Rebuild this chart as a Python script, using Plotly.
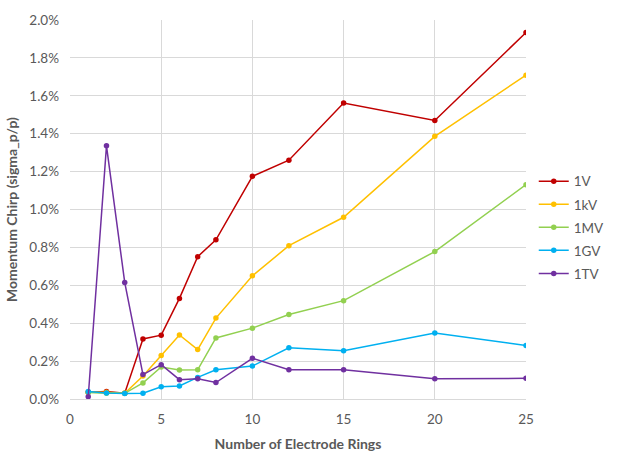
import plotly.graph_objects as go

rings = [1, 2, 3, 4, 5, 6, 7, 8, 10, 12, 15, 20, 25]

chirp_1V = [0.036, 0.039, 0.030, 0.317, 0.337, 0.531, 0.751, 0.840, 1.175, 1.260, 1.562, 1.470, 1.934]
chirp_1kV = [0.035, 0.035, 0.030, 0.121, 0.230, 0.338, 0.261, 0.427, 0.650, 0.809, 0.959, 1.386, 1.709]
chirp_1MV = [0.034, 0.030, 0.030, 0.085, 0.169, 0.153, 0.154, 0.322, 0.374, 0.446, 0.519, 0.778, 1.131]
chirp_1GV = [0.039, 0.032, 0.029, 0.030, 0.065, 0.069, 0.114, 0.154, 0.174, 0.270, 0.255, 0.348, 0.282]
chirp_1TV = [0.012, 1.336, 0.615, 0.129, 0.181, 0.102, 0.107, 0.087, 0.215, 0.154, 0.154, 0.107, 0.109]

series_names = ["1V", "1kV", "1MV", "1GV", "1TV"]
series_values = [chirp_1V, chirp_1kV, chirp_1MV, chirp_1GV, chirp_1TV]
series_colors = ["#C00000", "#FFC000", "#92D050", "#00B0F0", "#7030A0"]

y_ticks = [0.0, 0.2, 0.4, 0.6, 0.8, 1.0, 1.2, 1.4, 1.6, 1.8, 2.0]
x_ticks = [0, 5, 10, 15, 20, 25]

FONT = "Lato, 'Open Sans', sans-serif"
GRAY = "#595959"
GRID = "#D9D9D9"

fig = go.Figure()
for name, vals, col in zip(series_names, series_values, series_colors):
    fig.add_trace(go.Scatter(
        x=rings, y=vals, name=name, mode="lines+markers",
        legendgroup=name,
        line=dict(color=col, width=1.5),
        marker=dict(color=col, size=5.5, symbol="circle"),
    ))

fig.update_layout(
    width=622, height=461,
    margin=dict(l=68, r=77, t=12, b=51),
    paper_bgcolor="white", plot_bgcolor="white",
    font=dict(family=FONT, size=13.5, color=GRAY),
    showlegend=True,
    legend=dict(
        x=1.017, xanchor="left", y=0.615, yanchor="top",
        font=dict(family=FONT, size=13.5, color=GRAY),
        itemwidth=30, tracegroupgap=2.5, traceorder="grouped",
        bgcolor="rgba(0,0,0,0)",
    ),
    xaxis=dict(
        range=[0, 25], tickvals=x_ticks, ticktext=[str(v) for v in x_ticks],
        showgrid=True, gridcolor=GRID, gridwidth=1,
        zeroline=False, showline=True, linecolor=GRID, linewidth=1,
        ticks="", ticklabelstandoff=8,
        title=dict(text="<b>Number of Electrode Rings</b>", font=dict(family=FONT, size=14, color=GRAY), standoff=12),
    ),
    yaxis=dict(
        range=[0, 2.0], tickvals=y_ticks, ticktext=[f"{v:.1f}%" for v in y_ticks],
        showgrid=True, gridcolor=GRID, gridwidth=1,
        zeroline=False, showline=False,
        ticks="", ticklabelstandoff=10,
        title=dict(text="<b>Momentum Chirp (sigma_p/p)</b>", font=dict(family=FONT, size=14, color=GRAY), standoff=8),
    ),
)

fig.write_html(
    "out.html",
    config={"displayModeBar": False},
    post_script="document.body.style.margin='0';document.body.style.overflow='hidden';",
)
